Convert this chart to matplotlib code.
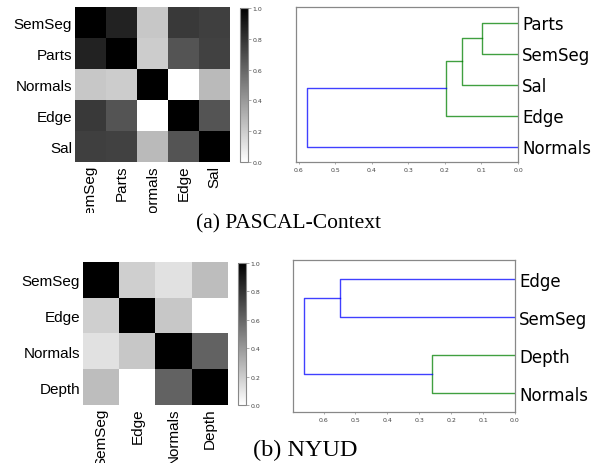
import numpy as np
import matplotlib
matplotlib.use("Agg")
import matplotlib.pyplot as plt
from matplotlib.transforms import Bbox, TransformedBbox

pascal_tasks = ["SemSeg", "Parts", "Normals", "Edge", "Sal"]
pascal_aff = [
    [1.00, 0.86, 0.22, 0.77, 0.75],
    [0.86, 1.00, 0.20, 0.67, 0.74],
    [0.22, 0.20, 1.00, 0.00, 0.27],
    [0.77, 0.67, 0.00, 1.00, 0.67],
    [0.75, 0.74, 0.27, 0.67, 1.00],
]
nyud_tasks = ["SemSeg", "Edge", "Normals", "Depth"]
nyud_aff = [
    [1.00, 0.19, 0.12, 0.26],
    [0.19, 1.00, 0.22, 0.00],
    [0.12, 0.22, 1.00, 0.61],
    [0.26, 0.00, 0.61, 1.00],
]

# dendrograms: leaves bottom -> top, merges (child, child, height), node ids follow scipy convention
pascal_leaves = ["Normals", "Edge", "Sal", "SemSeg", "Parts"]
pascal_merges = [(3, 4, 0.0975), (5, 2, 0.152), (6, 1, 0.198), (7, 0, 0.578)]
pascal_colors = ["g", "g", "g", "b"]
nyud_leaves = ["Normals", "Depth", "SemSeg", "Edge"]
nyud_merges = [(2, 3, 0.549), (0, 1, 0.261), (4, 5, 0.6625)]
nyud_colors = ["b", "g", "b"]

W, H = 601, 464
GREY = "#888888"


def frac(x0, y0, x1, y1):
    # pixel box (top-left origin) -> figure fraction rect
    return [x0 / W, 1 - y1 / H, (x1 - x0) / W, (y1 - y0) / H]


def heatmap(ax, cax, mat, labels):
    im = ax.imshow(np.array(mat), cmap="gray_r", vmin=0, vmax=1,
                   aspect="auto", interpolation="nearest")
    ax.set_xticks(range(len(labels)))
    ax.set_yticks(range(len(labels)))
    ax.set_xticklabels(labels, rotation=90, fontsize=11, family="Liberation Sans")
    ax.set_yticklabels(labels, fontsize=11, family="Liberation Sans")
    ax.tick_params(length=0, pad=2)
    for s in ax.spines.values():
        s.set_visible(False)
    cb = plt.colorbar(im, cax=cax, ticks=np.arange(0, 1.01, 0.2))
    cb.outline.set_edgecolor(GREY)
    cb.outline.set_linewidth(0.8)
    cax.tick_params(labelsize=4.5, length=2, width=0.5, color=GREY,
                    labelcolor="#444444", pad=1)
    return ax


def dendrogram(ax, leaves, merges, colors):
    n = len(leaves)
    ys = [5 + 10 * i for i in range(n)]
    hs = [0.0] * n
    for (a, b, h), c in zip(merges, colors):
        ax.plot([hs[a], h, h, hs[b]], [ys[a], ys[a], ys[b], ys[b]],
                color=c, lw=1.0, alpha=0.75)
        ys.append((ys[a] + ys[b]) / 2)
        hs.append(h)
    ax.set_xlim(max(hs) * 1.05, 0)
    ax.set_ylim(0, 10 * n)
    ax.set_xticks(np.arange(0, max(hs) * 1.05, 0.1))
    ax.xaxis.set_major_formatter(plt.FormatStrFormatter("%.1f"))
    ax.tick_params(axis="x", labelsize=4.5, length=1.5, width=0.5,
                   color=GREY, labelcolor="#444444", pad=2)
    ax.yaxis.tick_right()
    ax.set_yticks(ys[:n])
    ax.set_yticklabels(leaves, fontsize=12)
    ax.tick_params(axis="y", length=0, pad=3)
    for s in ax.spines.values():
        s.set_edgecolor(GREY)
        s.set_linewidth(0.9)


fig = plt.figure(figsize=(W / 100, H / 100), dpi=100)

ax1 = fig.add_axes(frac(75, 8, 230, 163))
cax1 = fig.add_axes(frac(240, 9, 248, 163))
heatmap(ax1, cax1, pascal_aff, pascal_tasks)
# the source image cuts these labels off just above the caption
clip = TransformedBbox(Bbox([[0, 1 - 214 / H], [1, 1]]), fig.transFigure)
for lbl in ax1.get_xticklabels():
    lbl.set_clip_box(clip)
    lbl.set_clip_on(True)

ax2 = fig.add_axes(frac(296, 8, 518, 163))
dendrogram(ax2, pascal_leaves, pascal_merges, pascal_colors)

ax3 = fig.add_axes(frac(83, 263, 228, 406))
cax3 = fig.add_axes(frac(238, 264, 246, 406))
heatmap(ax3, cax3, nyud_aff, nyud_tasks)

ax4 = fig.add_axes(frac(293, 261, 515, 413))
dendrogram(ax4, nyud_leaves, nyud_merges, nyud_colors)

fig.text(288 / W, 1 - 228 / H, "(a) PASCAL-Context", ha="center", va="baseline",
         fontsize=15.5, family="Liberation Serif")
fig.text(305 / W, 1 - 456 / H, "(b) NYUD", ha="center", va="baseline",
         fontsize=17.5, family="Liberation Serif")

fig.savefig("out.png", dpi=100)
